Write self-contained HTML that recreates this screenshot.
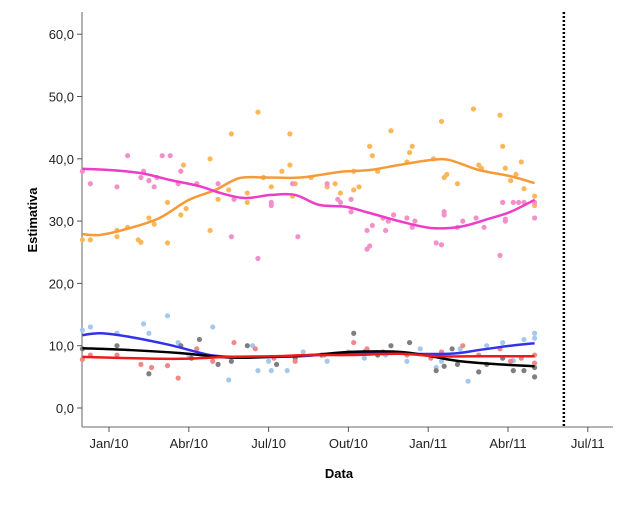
<!DOCTYPE html>
<html><head><meta charset="utf-8"><style>
body{margin:0;background:#fff;}
svg{display:block;font-family:"Liberation Sans",Arial,sans-serif;}
</style></head><body>
<svg id="chart" width="631" height="524" xmlns="http://www.w3.org/2000/svg"></svg>
<script>
// months since Jan 2010
const yTicks=[0,10,20,30,40,50,60];
const yTickLabels=["0,0","10,0","20,0","30,0","40,0","50,0","60,0"];
const xTicks=[0,3,6,9,12,15,18];
const xTickLabels=["Jan/10","Abr/10","Jul/10","Out/10","Jan/11","Abr/11","Jul/11"];
const cutoffMonth=17.1;
const orangePts=[[-1,27],[-0.7,27],[0.3,27.5],[0.3,28.5],[0.7,29],[1.1,27],[1.2,26.6],[1.5,30.5],[1.7,29.5],[2.2,26.5],[2.2,33],[2.7,31],[2.8,39],[2.9,32],[3.8,28.5],[3.8,40],[4.1,33.5],[4.6,44],[4.5,35],[5.2,33],[5.2,34.5],[5.6,47.5],[5.8,37],[6.1,35.5],[6.5,38],[6.8,39],[6.8,44],[6.9,34],[7,36],[7.6,37],[8.2,35.5],[8.5,36],[8.7,34.5],[9.2,38],[9.2,35],[9.4,35.5],[9.8,42],[9.9,40.5],[10.1,38],[10.6,44.5],[11.2,39.5],[11.3,41],[11.4,42],[12.2,40],[12.5,46],[12.6,37],[12.7,37.5],[13.1,36],[13.7,48],[13.9,39],[14,38.5],[14.7,47],[14.8,42],[14.9,38.5],[15.1,36.5],[15.3,37.5],[15.5,39.5],[15.6,35.2],[16,34],[16,32.5]];
const pinkPts=[[-1,38],[-0.7,36],[0.3,35.5],[0.7,40.5],[1.2,37],[1.3,38],[1.5,36.5],[1.7,35.5],[1.8,37],[2,40.5],[2.3,40.5],[2.6,36],[2.7,38],[3.3,36],[4.1,36],[4.6,27.5],[4.7,33.5],[5.6,24],[6.1,33],[6.1,32.5],[6.9,36],[7.1,27.5],[8.2,36],[8.6,33.5],[8.7,33],[9.1,33.5],[9.1,31.5],[9.7,28.5],[9.7,25.5],[9.8,26],[9.9,29.3],[10.3,30.5],[10.4,28.5],[10.5,30],[10.7,31],[11.2,30.5],[11.4,29],[11.5,30],[12.3,26.5],[12.5,26.2],[12.6,31.5],[12.6,31],[13.1,29],[13.3,30],[13.8,30.5],[14.1,29],[14.7,24.5],[14.8,33],[14.9,30],[14.9,30.3],[15.2,33],[15.4,33],[15.6,33],[16,33],[16,30.5]];
const bluePts=[[-1,12.5],[-0.7,13],[0.3,12],[1.3,13.5],[1.5,12],[2.2,14.8],[2.6,10.5],[3.9,13],[4.5,4.5],[5.4,10],[6,7.5],[6.1,6],[6.7,6],[7.3,9],[8.2,7.5],[9,9],[9.6,8],[10.4,8.5],[11.2,7.5],[12.3,6.5],[12.5,7.5],[13.2,9.5],[13.5,4.3],[14.2,10],[14.8,10.5],[15.2,7.6],[15.6,11],[16,12],[16,11.2],[5.6,6],[3,8.5],[11.7,9.5]];
const grayPts=[[-1,9.5],[0.3,10],[1.5,5.5],[2.7,10],[3.1,8],[3.4,11],[4.1,7],[5.2,10],[6.3,7],[7,8],[8,8.5],[9.2,12],[9.6,9],[10.6,10],[11.3,10.5],[12.3,6],[12.6,6.7],[13.1,7],[13.9,5.8],[14.2,7],[14.8,8],[15.2,6],[15.6,6],[16,6.5],[16,5],[4.6,7.5],[10.1,8.5],[12.9,9.5]];
const redPts=[[-1,7.8],[-0.7,8.5],[0.3,8.5],[1.2,7],[1.6,6.5],[2.2,6.8],[2.6,4.8],[3.3,9.5],[3.9,7.5],[4.7,10.5],[5.5,9.5],[6.2,8],[7,7.5],[8.1,8.5],[9.2,10.5],[9.7,9.5],[10.3,9],[11.2,8.5],[12.1,8],[12.5,9],[13.3,10],[13.9,8.5],[14.7,9.5],[15.1,7.5],[15.5,8],[16,8.5],[16,7.2]];
const orangeFit=[[-1,27.9],[-0.3,27.8],[0.8,28.9],[1.9,30.5],[3,33.4],[4,35],[4.9,36.9],[5.9,37],[7.2,37],[8.7,37.9],[9.8,38.2],[10.9,39],[12.1,39.8],[12.8,39.8],[13.9,38.2],[15.1,37.2],[16,36.1]];
const pinkFit=[[-1,38.4],[0,38.2],[1.2,37.7],[2.3,36.6],[3.4,35.6],[4.2,34.5],[5.1,33.7],[6.1,34.2],[7,34.2],[7.9,32.6],[8.9,32.3],[9.8,31.3],[10.9,30],[12.1,28.9],[13.2,29.1],[14.3,30.4],[15.1,31.5],[16,33.4]];
const blueFit=[[-1,11.7],[-0.3,12],[0.8,11.4],[2.3,10.1],[3.8,8.5],[4.9,8.2],[6.1,8.2],[7.2,8.3],[8.7,8.7],[10.9,8.7],[12.8,8.7],[13.9,9.3],[15.1,10],[16,10.4]];
const blackFit=[[-1,9.6],[0.8,9.3],[2.7,8.8],[4.5,8.1],[6.1,8.2],[7.6,8.5],[9.1,9],[10.9,9],[12.1,8.3],[13.2,7.5],[14.7,7],[16,6.7]];
const redFit=[[-1,8.2],[0.8,8],[2.7,7.9],[4.5,8.2],[6.1,8.3],[7.6,8.5],[9.1,8.5],[10.9,8.7],[12.4,8.3],[13.9,8.3],[16,8.3]];

const svg=document.getElementById('chart');
const NS='http://www.w3.org/2000/svg';
const X0=82,X1=613,Y0=427,Y1=12;
const xS=m=>109+m*26.6;
const yS=v=>408-v*6.23;
function el(t,a,p){const e=document.createElementNS(NS,t);for(const k in a)e.setAttribute(k,a[k]);(p||svg).appendChild(e);return e;}

const axes=el('g',{});


let a=el('line',{x1:X0,y1:Y1,x2:X0,y2:Y0,stroke:'#888','stroke-width':1.3},axes);

a=el('line',{x1:X0,y1:Y0,x2:X1,y2:Y0,stroke:'#888','stroke-width':1.3},axes);

yTicks.forEach((v,i)=>{
  el('line',{x1:X0-5,y1:yS(v),x2:X0,y2:yS(v),stroke:'#555'},axes);
  const t=el('text',{x:X0-8,y:yS(v)+5,'text-anchor':'end','font-size':13,fill:'#222'},axes);
  t.textContent=yTickLabels[i];
  
  
});
xTicks.forEach((m,i)=>{
  el('line',{x1:xS(m),y1:Y0,x2:xS(m),y2:Y0+5,stroke:'#555'},axes);
  const t=el('text',{x:xS(m),y:Y0+21,'text-anchor':'middle','font-size':13,fill:'#222'},axes);
  t.textContent=xTickLabels[i];
  
  
});
let t=el('text',{x:339,y:478,'text-anchor':'middle','font-size':13,'font-weight':'bold'});
t.textContent='Data';

t=el('text',{x:0,y:0,'text-anchor':'middle','font-size':13,'font-weight':'bold',transform:'translate(37,220) rotate(-90)'});
t.textContent='Estimativa';


const cut=el('line',{x1:xS(cutoffMonth),y1:Y1,x2:xS(cutoffMonth),y2:Y0,stroke:'#000','stroke-width':2.5,'stroke-dasharray':'2,2'});


const series=[
 ['orange',orangePts,orangeFit,'#fbb75a','#f59a38'],
 ['pink',pinkPts,pinkFit,'#f290c9','#ec3cc9'],
 ['blue',bluePts,blueFit,'#a5c9ec','#3232ee'],
 ['gray',grayPts,blackFit,'#7f7f7f','#000000'],
 ['red',redPts,redFit,'#f08888','#ee1a1a']
];
series.forEach(s=>{
  const g=el('g',{});
  
  
  s[1].forEach(p=>{
    const c=el('circle',{cx:xS(p[0]),cy:yS(p[1]),r:2.6,fill:s[3]},g);
    
    
  });
});
function smooth(pts){
  const P=pts.map(p=>[xS(p[0]),yS(p[1])]);
  let d='M'+P[0][0]+','+P[0][1];
  for(let i=0;i<P.length-1;i++){
    const p0=P[Math.max(0,i-1)],p1=P[i],p2=P[i+1],p3=P[Math.min(P.length-1,i+2)];
    d+=' C'+(p1[0]+(p2[0]-p0[0])/6)+','+(p1[1]+(p2[1]-p0[1])/6)+' '+(p2[0]-(p3[0]-p1[0])/6)+','+(p2[1]-(p3[1]-p1[1])/6)+' '+p2[0]+','+p2[1];
  }
  return d;
}
series.forEach(s=>{
  const p=el('path',{d:smooth(s[2]),fill:'none',stroke:s[4],'stroke-width':2.5});
  
  
});
</script>
</body></html>
